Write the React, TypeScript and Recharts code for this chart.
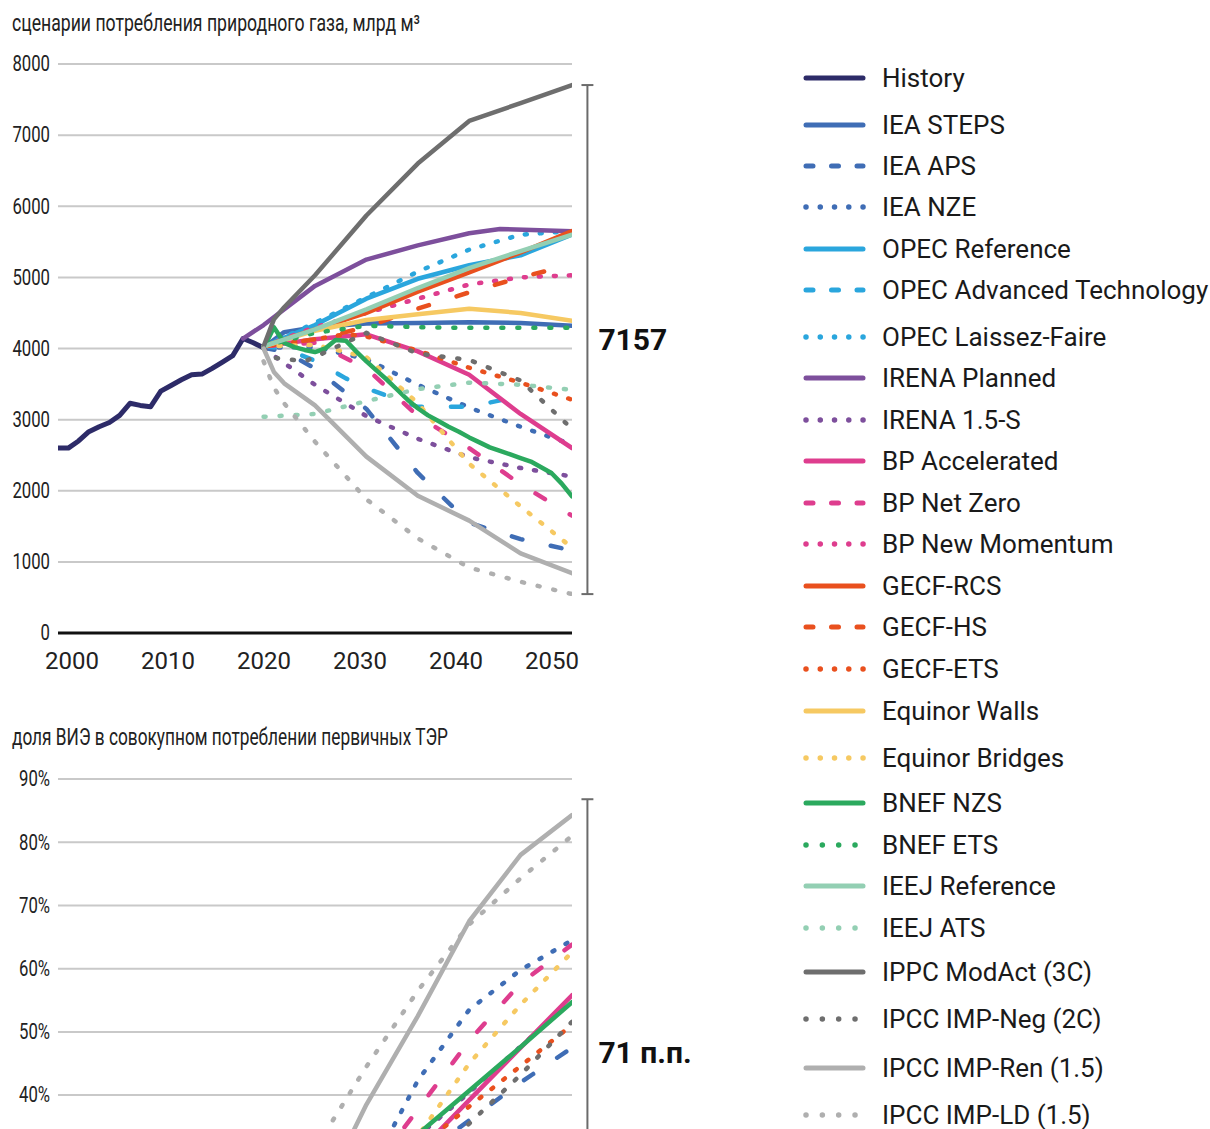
import React from 'react';
import { LineChart, Line, XAxis, YAxis, CartesianGrid, ReferenceLine } from 'recharts';

type P = [number, number];

// ---------- Gas consumption scenarios, bcm ----------
const history: P[] = [[2000,2600],[2001,2600],[2002,2700],[2003,2830],[2004,2900],[2005,2960],[2006,3060],[2007,3230],[2008,3200],[2009,3180],[2010,3400],[2011,3480],[2012,3560],[2013,3630],[2014,3640],[2015,3720],[2016,3810],[2017,3900],[2018,4140],[2019,4080],[2020,4010]];
const ieaSteps: P[] = [[2020,4010],[2022,4230],[2025,4300],[2030,4350],[2035,4360],[2040,4370],[2045,4360],[2050,4320]];
const ieaAps: P[] = [[2020,4010],[2022,3960],[2025,3720],[2030,3150],[2035,2250],[2040,1550],[2045,1320],[2050,1160]];
const ieaNze: P[] = [[2020,4010],[2025,4020],[2030,3850],[2035,3490],[2040,3170],[2045,2900],[2050,2650]];
const opecRef: P[] = [[2020,4030],[2025,4330],[2030,4700],[2035,4980],[2040,5170],[2045,5310],[2050,5600]];
const opecAt: P[] = [[2020,4030],[2022,4000],[2025,3830],[2028,3580],[2030,3440],[2035,3180],[2040,3180],[2045,3330]];
const opecLf: P[] = [[2020,4030],[2025,4360],[2030,4720],[2035,5080],[2040,5390],[2045,5600],[2050,5650]];
const irenaPlanned: P[] = [[2018,4140],[2020,4330],[2025,4880],[2030,5250],[2035,5450],[2040,5620],[2043,5680],[2050,5650]];
const irena15: P[] = [[2020,4000],[2025,3490],[2030,3050],[2035,2730],[2040,2470],[2045,2320],[2050,2200]];
const bpAcc: P[] = [[2020,4030],[2025,4130],[2030,4200],[2035,3960],[2040,3630],[2045,3080],[2050,2600]];
const bpNz: P[] = [[2020,4030],[2025,4080],[2030,3720],[2035,3050],[2040,2600],[2045,2090],[2050,1650]];
const bpNm: P[] = [[2020,4030],[2025,4300],[2030,4500],[2035,4700],[2040,4900],[2045,5000],[2050,5030]];
const gecfRcs: P[] = [[2020,4030],[2025,4270],[2030,4500],[2035,4800],[2040,5070],[2045,5350],[2050,5650]];
const gecfHs: P[] = [[2020,4030],[2025,4130],[2030,4300],[2035,4560],[2040,4790],[2045,5000],[2050,5180]];
const gecfEts: P[] = [[2020,4030],[2025,4130],[2028,4200],[2030,4170],[2035,3970],[2040,3730],[2045,3520],[2050,3280]];
const equinorWalls: P[] = [[2020,4030],[2025,4250],[2030,4400],[2035,4480],[2040,4560],[2045,4500],[2050,4390]];
const equinorBridges: P[] = [[2020,4030],[2025,4050],[2030,3880],[2035,3230],[2040,2380],[2045,1780],[2050,1200]];
const bnefNzs: P[] = [[2020,4000],[2021,4300],[2022,4080],[2023,4020],[2024,3980],[2025,3950],[2026,4000],[2027,4120],[2028,4110],[2029,3960],[2030,3820],[2031,3690],[2032,3560],[2033,3420],[2034,3280],[2035,3160],[2036,3060],[2037,2980],[2038,2900],[2039,2830],[2040,2750],[2041,2680],[2042,2610],[2043,2560],[2044,2510],[2045,2460],[2046,2410],[2047,2330],[2048,2250],[2049,2100],[2050,1920]];
const bnefEts: P[] = [[2020,4030],[2025,4220],[2030,4320],[2035,4300],[2040,4290],[2045,4290],[2050,4290]];
const ieejRef: P[] = [[2020,4030],[2025,4270],[2030,4550],[2035,4850],[2040,5130],[2045,5370],[2050,5600]];
const ieejAts: P[] = [[2020,3040],[2025,3080],[2030,3260],[2035,3430],[2040,3520],[2045,3490],[2050,3420]];
const ipccModAct: P[] = [[2020,4030],[2021,4410],[2022,4580],[2025,5030],[2030,5870],[2035,6600],[2040,7200],[2045,7450],[2050,7704]];
const ipccNeg: P[] = [[2020,4000],[2021,3870],[2024,3820],[2025,3880],[2030,4220],[2035,3930],[2040,3840],[2045,3550],[2050,2870]];
const ipccRen: P[] = [[2020,4000],[2021,3670],[2022,3510],[2025,3200],[2030,2480],[2035,1930],[2040,1580],[2045,1120],[2050,840]];
const ipccLd: P[] = [[2020,3820],[2021,3450],[2022,3230],[2025,2690],[2030,1880],[2035,1330],[2040,920],[2045,720],[2050,547]];

// ---------- Renewables share in primary energy, % ----------
const shIeaAps: P[] = [[2020,13],[2025,18],[2030,24],[2035,30],[2040,36],[2045,42],[2050,47.5]];
const shIeaNze: P[] = [[2020,13],[2025,19],[2030,27],[2035,42.3],[2040,53.5],[2045,59.8],[2050,64.5]];
const shIrena15: P[] = [[2020,14],[2025,20],[2030,27],[2035,33.5],[2040,40.4],[2045,47.7],[2050,55]];
const shBpAcc: P[] = [[2020,13],[2025,16],[2030,23],[2035,30.9],[2040,39.2],[2045,47.5],[2050,55.8]];
const shBpNz: P[] = [[2020,13],[2025,18],[2030,27],[2035,37.7],[2040,48.6],[2045,57.7],[2050,63.8]];
const shGecfEts: P[] = [[2020,14],[2025,19],[2030,25],[2035,31.5],[2040,38.2],[2045,44.6],[2050,51.1]];
const shEquinorBridges: P[] = [[2020,14],[2025,17],[2030,23],[2035,33.5],[2040,45],[2045,54.3],[2050,62.6]];
const shBnefNzs: P[] = [[2020,14],[2025,19],[2030,26.5],[2035,33.8],[2040,40.7],[2045,47.6],[2050,54.7]];
const shIpccNeg: P[] = [[2020,12],[2025,15],[2030,20],[2035,27.5],[2040,35.5],[2045,43.2],[2050,51.6]];
const shIpccRen: P[] = [[2020,12],[2025,22],[2030,38.5],[2035,52.5],[2040,67.5],[2045,78],[2050,84.3]];
const shIpccLd: P[] = [[2020,19],[2025,31.5],[2030,44.5],[2035,56.5],[2040,67],[2045,74.3],[2050,81]];

const shareBracket: P = [86.8, 15.8];

const xTicks = [2000, 2010, 2020, 2030, 2040, 2050];
const gasTicks = [0, 1000, 2000, 3000, 4000, 5000, 6000, 7000, 8000];
const shareTicks = [40, 50, 60, 70, 80, 90];

const gasTitle = 'сценарии потребления природного газа, млрд м³';
const shareTitle = 'доля ВИЭ в совокупном потреблении первичных ТЭР';

const C = {
  navy: '#2D2B68',
  iea: '#3F6DB5',
  opec: '#2AA6DD',
  irena: '#7D4F9C',
  bp: '#DE3D8E',
  gecf: '#E9501E',
  equinor: '#F6C962',
  bnef: '#2BA95E',
  ieej: '#93CFB3',
  ipccDark: '#6E6E6E',
  ipccLight: '#AFAFAF',
};

type Dash = 'solid' | 'dash' | 'dot' | 'dot4';
interface Series { name: string; color: string; dash: Dash; gas?: P[]; share?: P[] }

const series: Series[] = [
  { name: 'History', color: C.navy, dash: 'solid', gas: history },
  { name: 'IEA STEPS', color: C.iea, dash: 'solid', gas: ieaSteps },
  { name: 'IEA APS', color: C.iea, dash: 'dash', gas: ieaAps, share: shIeaAps },
  { name: 'IEA NZE', color: C.iea, dash: 'dot', gas: ieaNze, share: shIeaNze },
  { name: 'OPEC Reference', color: C.opec, dash: 'solid', gas: opecRef },
  { name: 'OPEC Advanced Technology', color: C.opec, dash: 'dash', gas: opecAt },
  { name: 'OPEC Laissez-Faire', color: C.opec, dash: 'dot', gas: opecLf },
  { name: 'IRENA Planned', color: C.irena, dash: 'solid', gas: irenaPlanned },
  { name: 'IRENA 1.5-S', color: C.irena, dash: 'dot', gas: irena15, share: shIrena15 },
  { name: 'BP Accelerated', color: C.bp, dash: 'solid', gas: bpAcc, share: shBpAcc },
  { name: 'BP Net Zero', color: C.bp, dash: 'dash', gas: bpNz, share: shBpNz },
  { name: 'BP New Momentum', color: C.bp, dash: 'dot', gas: bpNm },
  { name: 'GECF-RCS', color: C.gecf, dash: 'solid', gas: gecfRcs },
  { name: 'GECF-HS', color: C.gecf, dash: 'dash', gas: gecfHs },
  { name: 'GECF-ETS', color: C.gecf, dash: 'dot', gas: gecfEts, share: shGecfEts },
  { name: 'Equinor Walls', color: C.equinor, dash: 'solid', gas: equinorWalls },
  { name: 'Equinor Bridges', color: C.equinor, dash: 'dot', gas: equinorBridges, share: shEquinorBridges },
  { name: 'BNEF NZS', color: C.bnef, dash: 'solid', gas: bnefNzs, share: shBnefNzs },
  { name: 'BNEF ETS', color: C.bnef, dash: 'dot4', gas: bnefEts },
  { name: 'IEEJ Reference', color: C.ieej, dash: 'solid', gas: ieejRef },
  { name: 'IEEJ ATS', color: C.ieej, dash: 'dot4', gas: ieejAts },
  { name: 'IPPC ModAct (3C)', color: C.ipccDark, dash: 'solid', gas: ipccModAct },
  { name: 'IPCC IMP-Neg (2C)', color: C.ipccDark, dash: 'dot4', gas: ipccNeg, share: shIpccNeg },
  { name: 'IPCC IMP-Ren (1.5)', color: C.ipccLight, dash: 'solid', gas: ipccRen, share: shIpccRen },
  { name: 'IPCC IMP-LD (1.5)', color: C.ipccLight, dash: 'dot4', gas: ipccLd, share: shIpccLd },
];

const legendTops = [78, 125, 166, 207, 249, 290, 337, 378, 420, 461, 503, 544, 586, 627, 669, 711, 758, 803, 845, 886, 928, 972, 1019, 1068, 1115];

const chartDash: Record<Dash, string | undefined> = { solid: undefined, dash: '11 29', dot: '2 13', dot4: '2 14' };

const SANS = 'Roboto, "Noto Sans", "DejaVu Sans", sans-serif';

const rows = (pts: P[]) => pts.map(([x, v]) => ({ x, v }));

const XTick = (props: any) => {
  const { x, y, payload } = props;
  const shift = 14 - (payload.value - 2000) * 0.68;
  return (
    <text x={x + shift} y={y + 28} textAnchor="middle" dominantBaseline="central" fill="#222" fontFamily={SANS} fontSize={24}>
      {payload.value}
    </text>
  );
};

const makeYTick = (suffix: string) => (props: any) => {
  const { x, y, payload } = props;
  return (
    <text transform={`translate(${x},${y}) scale(0.76,1)`} x={0} y={0} textAnchor="end" dominantBaseline="central" fill="#222" fontFamily={SANS} fontSize={22}>
      {payload.value}{suffix}
    </text>
  );
};

const bracketLabel = (text: string, dy: number) => (props: any) => {
  const vb = props.viewBox || {};
  return (
    <text x={(vb.x || 0) + 11} y={(vb.y || 0) + (vb.height || 0) / 2 + dy} dominantBaseline="central" fill="#111" fontFamily={SANS} fontWeight={700} fontSize={30}>
      {text}
    </text>
  );
};

const Title = ({ text, top, baseline, width }: { text: string; top: number; baseline: number; width: number }) => (
  <svg width={700} height={40} style={{ position: 'absolute', left: 0, top }}>
    <text x={12} y={baseline} textLength={width} lengthAdjust="spacingAndGlyphs" fill="#222" fontFamily={SANS} fontSize={23}>
      {text}
    </text>
  </svg>
);

const BX = 2051.5;
const CAP = 0.58;

const renderLines = (which: 'gas' | 'share') =>
  series
    .filter((s) => s[which])
    .map((s) => (
      <Line
        key={s.name}
        data={rows(s[which] as P[])}
        dataKey="v"
        type="linear"
        stroke={s.color}
        strokeWidth={s.name === 'History' ? 5 : 4.5}
        strokeDasharray={chartDash[s.dash]}
        strokeLinecap="round"
        strokeLinejoin="round"
        dot={false}
        activeDot={false}
        isAnimationActive={false}
        connectNulls
      />
    ));

const LegendSample = ({ color, dash }: { color: string; dash: Dash }) => {
  let line: React.ReactNode;
  if (dash === 'solid') line = <line x1={3} y1={6} x2={60} y2={6} stroke={color} strokeWidth={5} strokeLinecap="round" />;
  else if (dash === 'dash') line = <line x1={3} y1={6} x2={60} y2={6} stroke={color} strokeWidth={5} strokeLinecap="round" strokeDasharray="7 18.5" />;
  else if (dash === 'dot') line = <line x1={3} y1={6} x2={60.2} y2={6} stroke={color} strokeWidth={5.5} strokeLinecap="round" strokeDasharray="0.01 14.25" />;
  else line = <line x1={3} y1={6} x2={52.2} y2={6} stroke={color} strokeWidth={5.5} strokeLinecap="round" strokeDasharray="0.01 16.33" />;
  return <svg width={64} height={12} style={{ display: 'block' }}>{line}</svg>;
};

export default function App() {
  const gasMax = Math.max(...series.map((s) => (s.gas ? s.gas[s.gas.length - 1][1] : -Infinity)));
  const gasMin = Math.min(...series.filter((s) => s.gas && s.gas[s.gas.length - 1][0] === 2050).map((s) => (s.gas as P[])[(s.gas as P[]).length - 1][1]));
  const gasSpread = Math.round(gasMax - gasMin);
  const shareSpread = Math.round(shareBracket[0] - shareBracket[1]);

  return (
    <div style={{ position: 'absolute', left: 0, top: 0, width: 1210, height: 1129, overflow: 'hidden', background: '#fff' }}>
      <Title text={gasTitle} top={0} baseline={31} width={408} />
      <div style={{ position: 'absolute', left: 0, top: 0 }}>
        <LineChart width={700} height={700} margin={{ top: 64, right: 128, bottom: 0, left: 0 }}>
          <CartesianGrid vertical={false} stroke="#C9C9C9" strokeWidth={2} />
          <XAxis type="number" dataKey="x" domain={[2000, 2050]} ticks={xTicks} tick={<XTick />} tickSize={0} tickMargin={0} height={67} axisLine={{ stroke: '#111', strokeWidth: 3 }} tickLine={false} allowDataOverflow />
          <YAxis type="number" domain={[0, 8000]} ticks={gasTicks} width={58} axisLine={false} tickLine={false} tickSize={0} tickMargin={8} tick={makeYTick('')} />
          {renderLines('gas')}
          <ReferenceLine segment={[{ x: BX, y: gasMax }, { x: BX, y: gasMin }]} ifOverflow="visible" stroke="#6B6B6B" strokeWidth={2} label={bracketLabel(String(gasSpread), 0)} />
          <ReferenceLine segment={[{ x: BX - CAP, y: gasMax }, { x: BX + CAP, y: gasMax }]} ifOverflow="visible" stroke="#6B6B6B" strokeWidth={2} />
          <ReferenceLine segment={[{ x: BX - CAP, y: gasMin }, { x: BX + CAP, y: gasMin }]} ifOverflow="visible" stroke="#6B6B6B" strokeWidth={2} />
        </LineChart>
      </div>

      <Title text={shareTitle} top={714} baseline={31} width={436} />
      <div style={{ position: 'absolute', left: 0, top: 700 }}>
        <LineChart width={700} height={708} margin={{ top: 79, right: 128, bottom: 0, left: 0 }}>
          <CartesianGrid vertical={false} stroke="#C9C9C9" strokeWidth={2} />
          <XAxis type="number" dataKey="x" domain={[2000, 2050]} ticks={xTicks} tick={false} tickSize={0} height={60} axisLine={{ stroke: '#111', strokeWidth: 3 }} tickLine={false} allowDataOverflow />
          <YAxis type="number" domain={[0, 90]} ticks={shareTicks} width={58} axisLine={false} tickLine={false} tickSize={0} tickMargin={8} tick={makeYTick('%')} />
          {renderLines('share')}
          <ReferenceLine segment={[{ x: BX, y: shareBracket[0] }, { x: BX, y: shareBracket[1] }]} ifOverflow="visible" stroke="#6B6B6B" strokeWidth={2} label={bracketLabel(`${shareSpread} п.п.`, 29)} />
          <ReferenceLine segment={[{ x: BX - CAP, y: shareBracket[0] }, { x: BX + CAP, y: shareBracket[0] }]} ifOverflow="visible" stroke="#6B6B6B" strokeWidth={2} />
          <ReferenceLine segment={[{ x: BX - CAP, y: shareBracket[1] }, { x: BX + CAP, y: shareBracket[1] }]} ifOverflow="visible" stroke="#6B6B6B" strokeWidth={2} />
        </LineChart>
      </div>

      {series.map((s, i) => (
        <div key={s.name} style={{ position: 'absolute', left: 803, top: legendTops[i] - 16, height: 32, display: 'flex', alignItems: 'center', whiteSpace: 'nowrap' }}>
          <LegendSample color={s.color} dash={s.dash} />
          <span style={{ marginLeft: 15, fontFamily: SANS, fontSize: 26, color: '#1A1A1A', lineHeight: '32px' }}>{s.name}</span>
        </div>
      ))}
    </div>
  );
}
